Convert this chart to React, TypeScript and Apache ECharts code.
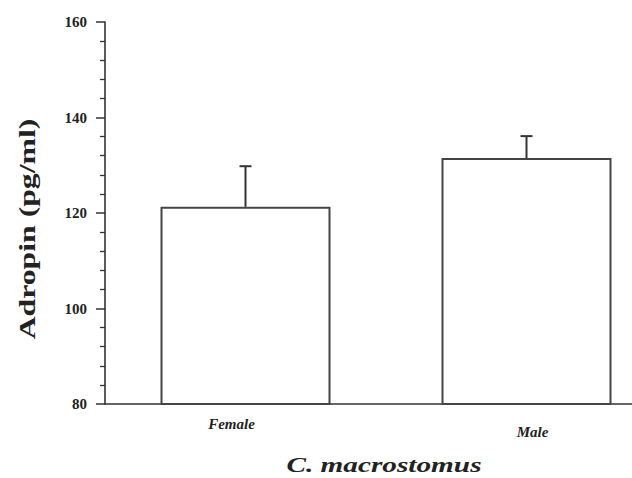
import React, { useEffect, useRef } from "react";
import * as echarts from "echarts";

const categories = ["Female", "Male"];
const means = [121.3, 131.5];
const errors = [8.5, 4.6];
const yTicks = { min: 80, max: 160, interval: 20 };
const yAxisTitle = "Adropin (pg/ml)";
const xAxisTitle = "C. macrostomus";

const FONT = "'Liberation Serif', 'DejaVu Serif', serif";

export default function App() {
  const ref = useRef<HTMLDivElement>(null);
  useEffect(() => {
    if (!ref.current) return;
    const chart = echarts.init(ref.current, null, { renderer: "svg" });
    const errData = categories.map((c, i) => [i, means[i], errors[i]]);
    const labelPads = [
      [0, 28, 0, 0],
      [8, 0, 0, 12],
    ];
    chart.setOption({
      animation: false,
      backgroundColor: "#ffffff",
      grid: { left: 105, top: 22, bottom: 74, right: 0, containLabel: false },
      xAxis: {
        type: "category",
        data: categories.map((c, i) => ({ value: c, textStyle: { padding: labelPads[i] } })),
        axisLine: { lineStyle: { color: "#333", width: 1.6 } },
        axisTick: { alignWithLabel: true, length: 7, lineStyle: { color: "#333", width: 1.5 } },
        axisLabel: {
          margin: 12,
          fontFamily: FONT,
          fontStyle: "italic",
          fontWeight: "bold",
          fontSize: 15,
          color: "#222",
        },
      },
      yAxis: {
        type: "value",
        min: yTicks.min,
        max: yTicks.max,
        interval: yTicks.interval,
        axisLine: { show: true, lineStyle: { color: "#333", width: 1.6 } },
        axisTick: { show: true, length: 9, lineStyle: { color: "#333", width: 1.5 } },
        minorTick: { show: true, splitNumber: 5, length: 5, lineStyle: { color: "#333", width: 1.3 } },
        splitLine: { show: false },
        axisLabel: {
          margin: 18,
          fontFamily: FONT,
          fontWeight: "bold",
          fontSize: 15,
          color: "#222",
        },
      },
      graphic: [
        {
          type: "text",
          x: 27,
          y: 229,
          rotation: Math.PI / 2,
          scaleX: 1.38,
          style: {
            text: yAxisTitle,
            fontFamily: FONT,
            fontWeight: "bold",
            fontSize: 23,
            fill: "#222",
            align: "center",
            verticalAlign: "middle",
          },
        },
        {
          type: "text",
          x: 384,
          y: 465,
          scaleX: 1.33,
          style: {
            text: xAxisTitle,
            fontFamily: FONT,
            fontWeight: "bold",
            fontStyle: "italic",
            fontSize: 22,
            fill: "#222",
            align: "center",
            verticalAlign: "middle",
          },
        },
      ],
      series: [
        {
          type: "bar",
          data: means,
          barWidth: 170,
          itemStyle: { color: "#ffffff", borderColor: "#444", borderWidth: 2 },
        },
        {
          type: "custom",
          data: errData,
          renderItem: (params: any, api: any) => {
            const x = api.value(0);
            const m = api.value(1);
            const e = api.value(2);
            const p0 = api.coord([x, m]);
            const p1 = api.coord([x, m + e]);
            const half = 6;
            const style = { stroke: "#333", lineWidth: 2 };
            return {
              type: "group",
              children: [
                { type: "line", shape: { x1: p0[0], y1: p0[1], x2: p1[0], y2: p1[1] }, style },
                { type: "line", shape: { x1: p1[0] - half, y1: p1[1], x2: p1[0] + half, y2: p1[1] }, style },
              ],
            };
          },
          z: 5,
        },
      ],
    });
    return () => chart.dispose();
  }, []);
  return (
    <div
      ref={ref}
      style={{ position: "fixed", left: 0, top: 0, width: 667, height: 478 }}
    />
  );
}
